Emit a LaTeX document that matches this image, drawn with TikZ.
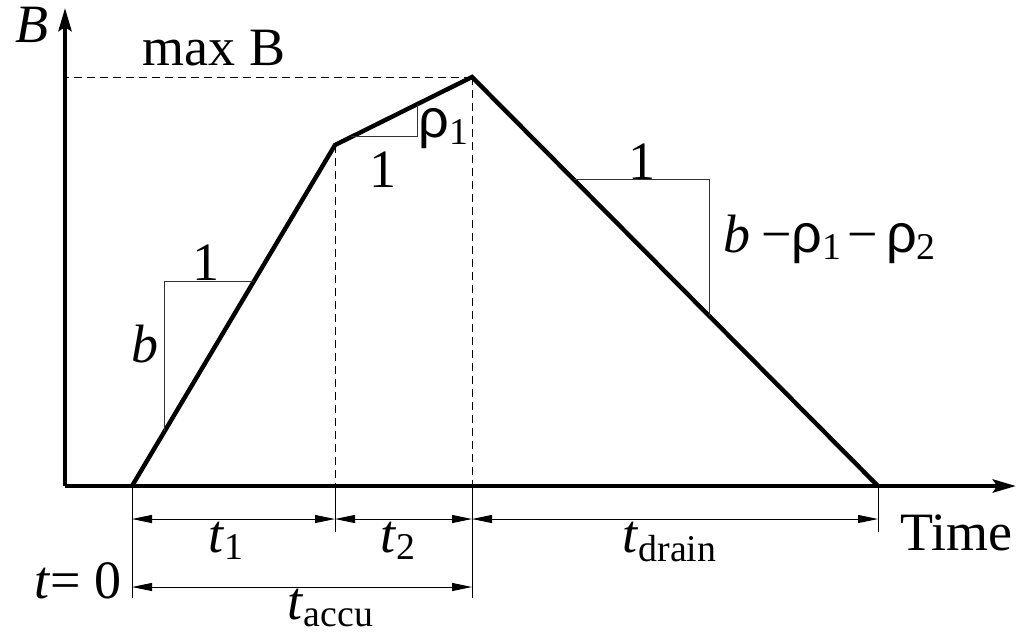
\documentclass[tikz,border=0pt]{standalone}
\usepackage{fontspec}
\setmainfont{Liberation Serif}
\newfontfamily\greekfont{Liberation Sans}
\usetikzlibrary{arrows.meta,calc}
\newcommand{\rhosub}[1]{{\greekfont ρ}\textsubscript{#1}}

\begin{document}
\begin{tikzpicture}[x=0.5pt,y=-0.5pt,
  font=\fontsize{27}{32}\selectfont,
  axis/.style={line width=2.2pt,-{Stealth[length=11.5pt,width=6.5pt,inset=2pt]}},
  curve/.style={line width=2.2pt},
  guide/.style={line width=0.5pt,dash pattern=on 4pt off 2.5pt},
  tick/.style={line width=0.5pt},
  slope/.style={line width=0.5pt,black!80},
  dim/.style={line width=0.5pt,{Triangle[length=10pt,width=4pt]}-{Triangle[length=10pt,width=4pt]}},
  lbl/.style={inner sep=0pt,anchor=base}]
\useasboundingbox (0,0) rectangle (1021,633);
\coordinate (O) at (65,486);
\coordinate (ytop) at (65,8);
\coordinate (xend) at (1016,486);
\coordinate (p0) at (132,486);
\coordinate (p1) at (335,145);
\coordinate (p2) at (472,77);
\coordinate (p3) at (878,486);
\coordinate (row1) at (0,519);
\coordinate (row2) at (0,587);
\coordinate (a0) at (132,598);
\coordinate (a1) at (335,532);
\coordinate (a2) at (472,598);
\coordinate (a3) at (878,532);

\draw[guide] (p2) -- (p2 -| O);
\draw[guide] (p1) -- (p1 |- O);
\draw[guide] (p2) -- (p2 |- O);
\draw[tick] (p0) -- (a0);
\draw[tick] (p1 |- O) -- (a1);
\draw[tick] (p2 |- O) -- (a2);
\draw[tick] (p3) -- (a3);

\draw[axis] (O) -- (ytop);
\draw[axis] (O) -- (xend);
\draw[curve] (p0) -- (p1) -- (p2) -- (p3);

\coordinate (s1a) at ($(p0)!0.16!(p1)$);
\coordinate (s1b) at ($(p0)!0.6!(p1)$);
\coordinate (s2a) at ($(p1)!0.12!(p2)$);
\coordinate (s2b) at ($(p1)!0.6!(p2)$);
\coordinate (s3a) at ($(p2)!0.25!(p3)$);
\coordinate (s3b) at ($(p2)!0.584!(p3)$);
\draw[slope] (s1a) |- (s1b);
\draw[slope] (s2a) -| (s2b);
\draw[slope] (s3a) -| (s3b);

\draw[dim] (p0 |- row1) -- (p1 |- row1);
\draw[dim] (p1 |- row1) -- (p2 |- row1);
\draw[dim] (p2 |- row1) -- (p3 |- row1);
\draw[dim] (p0 |- row2) -- (p2 |- row2);

\node[lbl] (ylabel) at (32,42) {\textit{B}};
\node[lbl] (maxb) at (214,65) {max B};
\node[lbl] (one1) at (206,280) {1};
\node[lbl] (bslope) at (145,362) {\textit{b}};
\node[lbl] (one2) at (383,187) {1};
\node[lbl] (rho1) at (444,137) {\rhosub{1}};
\node[lbl] (one3) at (642,179) {1};
\node[lbl,anchor=base west] (drainslope) at (723,252) {\textit{b}\hspace{0.2em}−\rhosub{1}\hspace{0.1em}−\hspace{0.15em}\rhosub{2}};
\node[lbl,anchor=base west] (xlabel) at (900,550) {Time};
\node[lbl] (tone) at (226,552) {\textit{t}\textsubscript{1}};
\node[lbl] (ttwo) at (398,552) {\textit{t}\textsubscript{2}};
\node[lbl] (tdrain) at (670,552) {\textit{t}\textsubscript{drain}};
\node[lbl] (taccu) at (331,619) {\textit{t}\textsubscript{accu}};
\node[lbl,anchor=base east] (tzero) at (122,598) {\textit{t}= 0};
\end{tikzpicture}
\end{document}
